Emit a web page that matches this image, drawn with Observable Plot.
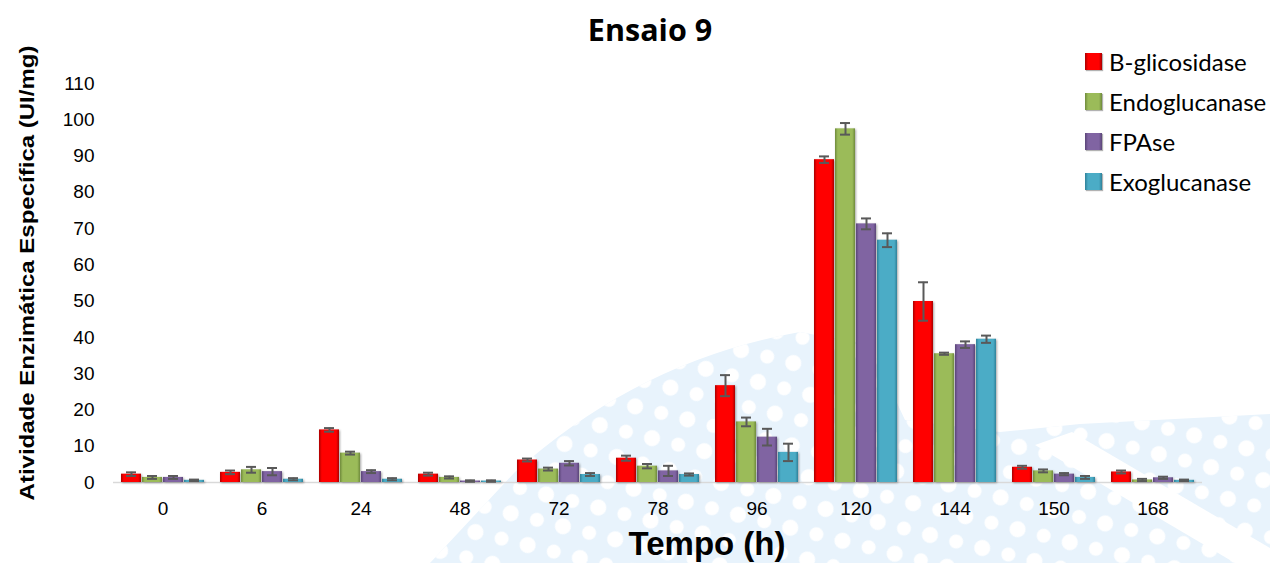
<!DOCTYPE html>
<html>
<head>
<meta charset="utf-8">
<script src="https://cdn.jsdelivr.net/npm/d3@7"></script>
<script src="https://cdn.jsdelivr.net/npm/@observablehq/plot@0.6"></script>
<style>
  body { margin: 0; background: #fff; }
  #chart { position: relative; width: 1270px; height: 563px; overflow: hidden; font-family: "Liberation Sans", Arial, sans-serif; }
  #chart svg { position: absolute; left: 0; top: 0; }
  #chart g[aria-label="bar"] { filter: drop-shadow(1px 1px 1.2px rgba(0,0,0,0.35)); }
  .title { position: absolute; left: 0; width: 1300px; top: 12px; text-align: center; font-family: "Open Sans", Lato, sans-serif; font-weight: bold; font-size: 30.5px; line-height: 34px; color: #000; }
  .ytitle { position: absolute; left: 27px; top: 273px; transform: translate(-50%, -50%) rotate(-90deg) scaleX(1.2); white-space: nowrap; font-weight: bold; font-size: 20px; color: #000; }
  .xtitle { position: absolute; left: 0; width: 1414px; top: 526px; text-align: center; font-weight: bold; font-size: 33px; line-height: 36px; color: #000; }
  .legend { position: absolute; left: 1085px; top: 41px; font-family: Lato, "Open Sans", sans-serif; font-size: 24px; color: #000; }
  .legend .item { display: flex; align-items: center; height: 40px; }
  .legend .sw { width: 17px; height: 17px; margin-right: 7px; box-shadow: 1px 1px 1px rgba(0,0,0,0.3); }
</style>
</head>
<body>
<div id="chart">
  <svg id="backdrop" width="1270" height="563">
    <defs>
      <pattern id="dots" width="40" height="36" patternUnits="userSpaceOnUse" patternTransform="rotate(-28)">
        <circle cx="10" cy="9" r="8" fill="#fff"/>
        <circle cx="30" cy="27" r="7" fill="#fff"/>
      </pattern>
    </defs>
    <path d="M430 563 L515 472 Q640 360 800 332 L870 345 L905 420 L1000 432 L1080 424 L1270 414 L1270 563 Z" fill="#e8f3fc"/>
    <path d="M430 563 L515 472 Q640 360 800 332 L870 345 L905 420 L1000 432 L1080 424 L1270 414 L1270 563 Z" fill="url(#dots)"/>
    <path d="M1035 445 L1072 432 L1270 548 L1270 563 L1235 563 Z" fill="#fff"/>
  </svg>
  <div class="title">Ensaio 9</div>
  <div class="ytitle">Atividade Enzimática Específica (UI/mg)</div>
  <div class="xtitle">Tempo (h)</div>
  <div class="legend" id="legend"></div>
</div>
<script>
// Sampling times (h)
const tempo = ["0", "6", "24", "48", "72", "78", "96", "120", "144", "150", "168"];

// Enzymes
const series = ["B-glicosidase", "Endoglucanase", "FPAse", "Exoglucanase"];

// Specific activity (UI/mg) per enzyme
const bGlicosidase = [2.3, 2.8, 14.5, 2.3, 6.2, 6.7, 26.7, 89.0, 49.9, 4.2, 2.9];
const endoglucanase = [1.4, 3.5, 8.1, 1.4, 3.7, 4.5, 16.7, 97.5, 35.5, 3.2, 0.7];
const fpase = [1.4, 3.0, 3.0, 0.4, 5.3, 3.2, 12.5, 71.3, 38.0, 2.3, 1.3];
const exoglucanase = [0.6, 0.9, 0.9, 0.4, 2.2, 2.2, 8.3, 66.8, 39.5, 1.4, 0.6];

// Standard deviations
const bGlicosidaseErr = [0.5, 0.5, 0.5, 0.4, 0.4, 0.7, 2.9, 0.9, 5.3, 0.4, 0.4];
const endoglucanaseErr = [0.4, 0.8, 0.4, 0.3, 0.4, 0.6, 1.2, 1.6, 0.3, 0.4, 0.3];
const fpaseErr = [0.4, 1.0, 0.4, 0.2, 0.6, 1.4, 2.3, 1.5, 0.9, 0.3, 0.3];
const exoglucanaseErr = [0.2, 0.3, 0.3, 0.2, 0.4, 0.3, 2.4, 1.9, 1.0, 0.4, 0.2];

const values = [bGlicosidase, endoglucanase, fpase, exoglucanase];
const errors = [bGlicosidaseErr, endoglucanaseErr, fpaseErr, exoglucanaseErr];

// Base colour and edge shade for each enzyme
const colors = ["#ff0000", "#9bbb59", "#8064a2", "#4bacc6"];
const edges = ["#a80000", "#6f8a3c", "#5a4578", "#2f8199"];

const rows = [];
tempo.forEach((t, i) => series.forEach((s, j) => {
  rows.push({tempo: t, serie: s, valor: values[j][i], erro: errors[j][i]});
}));

const errColor = "#595959";

const plot = Plot.plot({
  width: 1270,
  height: 563,
  marginLeft: 112,
  marginRight: 68,
  marginTop: 83,
  marginBottom: 81,
  style: {fontFamily: "'Liberation Sans', Arial, sans-serif", fontSize: "19px", color: "#000", background: "transparent", overflow: "visible"},
  fx: {domain: tempo, padding: 0, axis: "bottom", tickSize: 0, tickPadding: 19, label: null},
  x: {domain: series, axis: null, paddingInner: 0.05, paddingOuter: 0.38},
  y: {domain: [0, 110], ticks: d3.range(0, 111, 10), tickSize: 0, tickPadding: 19, label: null},
  marks: [
    Plot.ruleY([0], {stroke: "#d9d9d9", strokeWidth: 1.5}),
    ...series.map((s, j) => Plot.barY(rows.filter(r => r.serie === s), {
      fx: "tempo", x: "serie", y: "valor", fill: `url(#grad${j})`
    })),
    Plot.ruleX(rows, {fx: "tempo", x: "serie", y1: d => d.valor - d.erro, y2: d => d.valor + d.erro, stroke: errColor, strokeWidth: 2}),
    Plot.tickY(rows, {fx: "tempo", x: "serie", y: d => d.valor + d.erro, stroke: errColor, strokeWidth: 2, insetLeft: 5, insetRight: 5}),
    Plot.tickY(rows, {fx: "tempo", x: "serie", y: d => d.valor - d.erro, stroke: errColor, strokeWidth: 2, insetLeft: 5, insetRight: 5})
  ]
});

// Bevel-like shading for the bars
const defs = document.createElementNS("http://www.w3.org/2000/svg", "defs");
defs.innerHTML = colors.map((c, j) => `
  <linearGradient id="grad${j}" x1="0" x2="1" y1="0" y2="0">
    <stop offset="0" stop-color="${edges[j]}"/>
    <stop offset="0.14" stop-color="${c}"/>
    <stop offset="0.86" stop-color="${c}"/>
    <stop offset="1" stop-color="${edges[j]}"/>
  </linearGradient>`).join("");
plot.insertBefore(defs, plot.firstChild);

const chart = document.getElementById("chart");
chart.insertBefore(plot, document.getElementById("backdrop").nextSibling);

// Legend
const legend = document.getElementById("legend");
series.forEach((s, j) => {
  const item = document.createElement("div");
  item.className = "item";
  const sw = document.createElement("div");
  sw.className = "sw";
  sw.style.background = `linear-gradient(to right, ${edges[j]} 0%, ${colors[j]} 18%, ${colors[j]} 82%, ${edges[j]} 100%)`;
  const label = document.createElement("span");
  label.textContent = s;
  item.appendChild(sw);
  item.appendChild(label);
  legend.appendChild(item);
});
</script>
</body>
</html>
